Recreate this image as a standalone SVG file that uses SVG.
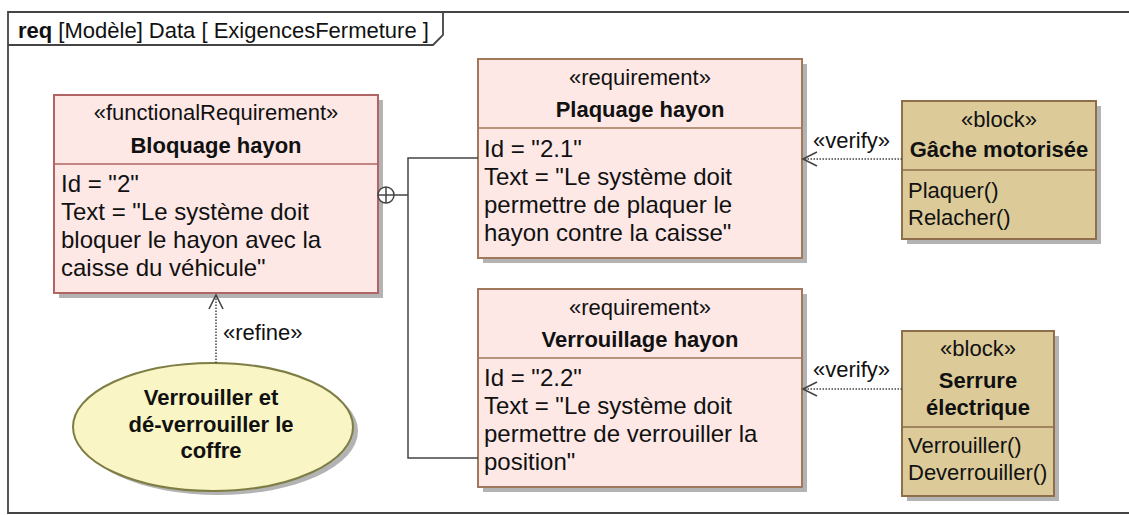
<svg xmlns="http://www.w3.org/2000/svg" width="1129" height="515" viewBox="0 0 1129 515">
<style>
text{font-family:"Liberation Sans",Arial,sans-serif;font-size:22px;fill:#111}
.a{font-size:24px}
.b{font-weight:bold}
.c{text-anchor:middle}
.sh{fill:#b3b3b3}
.req{fill:#fde8e6;stroke:#a0785a;stroke-width:2}
.req2{fill:#fde8e6;stroke:#b06464;stroke-width:2}
.blk{fill:#dccb99;stroke:#8f6e4c;stroke-width:2}
.sep{stroke:#a0785a;stroke-width:1.5}
.sep2{stroke:#b06464;stroke-width:1.5}
.sepb{stroke:#8f6e4c;stroke-width:1.5}
.ln{fill:none;stroke:#444;stroke-width:1.5}
.dot{fill:none;stroke:#444;stroke-width:1.5;stroke-dasharray:1.5 1.5}
.frame{fill:none;stroke:#444;stroke-width:1.8}
</style>
<defs>
<marker id="open" viewBox="0 0 16 16" refX="15" refY="8" markerWidth="16" markerHeight="16" markerUnits="userSpaceOnUse" orient="auto" overflow="visible">
<path d="M1,1 L15,8 L1,15" fill="none" stroke="#444" stroke-width="1.6"/>
</marker>
</defs>
<rect width="1129" height="515" fill="#fff"/>
<g id="frame">
<path class="frame" d="M1129,12 H8 V513 H1129"/>
<path class="frame" d="M443,12 V35 L433,45 H8"/>
<text x="18" y="38"><tspan class="b">req</tspan> [Modèle] Data [ ExigencesFermeture  ]</text>
</g>
<g id="bloquage">
<rect class="sh" x="59" y="100" width="324" height="198"/>
<rect class="req2" x="54" y="95" width="324" height="198"/>
<line class="sep2" x1="54" y1="164" x2="378" y2="164"/>
<text class="c" x="216" y="120">«functionalRequirement»</text>
<text class="c b" x="216" y="153">Bloquage hayon</text>
<text class="a" x="61" y="192">Id = "2"</text>
<text class="a" x="61" y="220">Text = "Le système doit</text>
<text class="a" x="61" y="248">bloquer le hayon avec la</text>
<text class="a" x="61" y="276">caisse du véhicule"</text>
</g>
<g id="plaquage">
<rect class="sh" x="483" y="64" width="324" height="199"/>
<rect class="req" x="478" y="59" width="324" height="199"/>
<line class="sep" x1="478" y1="128" x2="802" y2="128"/>
<text class="c" x="640" y="85">«requirement»</text>
<text class="c b" x="640" y="117">Plaquage hayon</text>
<text class="a" x="484" y="157">Id = "2.1"</text>
<text class="a" x="484" y="185">Text = "Le système doit</text>
<text class="a" x="484" y="213">permettre de plaquer le</text>
<text class="a" x="484" y="241">hayon contre la caisse"</text>
</g>
<g id="verrouillage">
<rect class="sh" x="483" y="294" width="324" height="198"/>
<rect class="req" x="478" y="289" width="324" height="198"/>
<line class="sep" x1="478" y1="358" x2="802" y2="358"/>
<text class="c" x="640" y="315">«requirement»</text>
<text class="c b" x="640" y="347">Verrouillage hayon</text>
<text class="a" x="484" y="386">Id = "2.2"</text>
<text class="a" x="484" y="414">Text = "Le système doit</text>
<text class="a" x="484" y="442">permettre de verrouiller la</text>
<text class="a" x="484" y="470">position"</text>
</g>
<g id="gache">
<rect class="sh" x="907" y="106" width="194" height="138"/>
<rect class="blk" x="902" y="101" width="194" height="138"/>
<line class="sepb" x1="902" y1="170" x2="1096" y2="170"/>
<text class="c" x="999" y="127">«block»</text>
<text class="c b" x="999" y="157">Gâche motorisée</text>
<text x="908" y="198">Plaquer()</text>
<text x="908" y="225">Relacher()</text>
</g>
<g id="serrure">
<rect class="sh" x="907" y="336" width="152" height="165"/>
<rect class="blk" x="902" y="331" width="152" height="165"/>
<line class="sepb" x1="902" y1="427" x2="1054" y2="427"/>
<text class="c" x="978" y="356">«block»</text>
<text class="c b" x="978" y="388">Serrure</text>
<text class="c b" x="978" y="415">électrique</text>
<text x="908" y="453">Verrouiller()</text>
<text x="908" y="480">Deverrouiller()</text>
</g>
<g id="usecase">
<ellipse class="sh" cx="218" cy="431" rx="140" ry="64"/>
<ellipse cx="213" cy="427" rx="140" ry="64" fill="#f9f5c5" stroke="#7d7d44" stroke-width="2"/>
<text class="c b" x="211" y="405">Verrouiller et</text>
<text class="c b" x="211" y="432">dé-verrouiller le</text>
<text class="c b" x="211" y="458">coffre</text>
</g>
<g id="connectors">
<path class="ln" d="M394,195 H408 M478,158 H408 V458 H478"/>
<circle cx="386" cy="195" r="8" fill="#fff" stroke="#444" stroke-width="1.5"/>
<path class="ln" d="M378,195 H394 M386,187 V203"/>
<path class="dot" d="M902,159 H803" marker-end="url(#open)"/>
<text x="813" y="148">«verify»</text>
<path class="dot" d="M902,389 H803" marker-end="url(#open)"/>
<text x="813" y="377">«verify»</text>
<path class="dot" d="M216,363 V295" marker-end="url(#open)"/>
<text x="223" y="340">«refine»</text>
</g>
</svg>
